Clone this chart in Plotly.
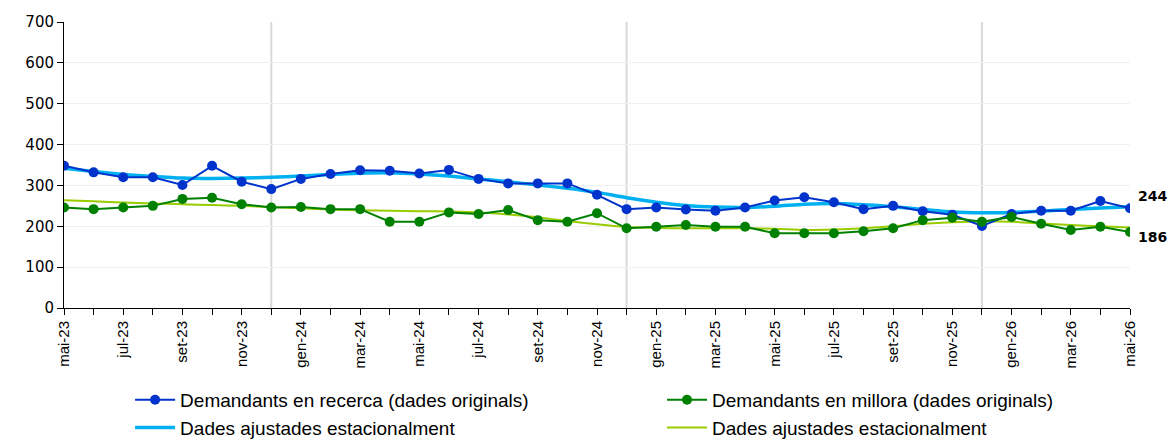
import plotly.graph_objects as go

months = ["mai-23","jun-23","jul-23","ago-23","set-23","oct-23","nov-23","des-23",
          "gen-24","feb-24","mar-24","abr-24","mai-24","jun-24","jul-24","ago-24","set-24","oct-24","nov-24","des-24",
          "gen-25","feb-25","mar-25","abr-25","mai-25","jun-25","jul-25","ago-25","set-25","oct-25","nov-25","des-25",
          "gen-26","feb-26","mar-26","abr-26","mai-26"]

recerca = [348,332,320,320,301,348,309,291,316,328,337,336,329,338,316,305,305,305,277,242,
           246,241,238,246,263,271,259,242,250,237,228,201,230,238,238,262,244]
millora = [246,242,246,250,267,270,254,246,247,242,242,211,211,234,230,240,215,211,232,195,
           199,203,199,199,183,183,183,188,195,215,221,211,223,206,191,199,186]
recerca_sa = [342,334,327,322,318,317,318,320,323,327,330,331,328,323,316,309,301,293,283,270,
              259,251,247,246,249,254,256,253,248,241,235,233,234,237,241,245,248]
millora_sa = [264,261,258,256,254,252,250,247,244,241,239,238,237,236,234,229,222,213,205,198,
              196,195,195,195,194,191,192,195,200,206,210,212,211,207,203,200,197]

tick_labels = [m if i % 2 == 0 else "" for i, m in enumerate(months)]
year_breaks = ["des-23", "des-24", "des-25"]

names = ["Demandants en recerca (dades originals)", "Demandants en millora (dades originals)",
         "Dades ajustades estacionalment", "Dades ajustades estacionalment"]

fig = go.Figure()
fig.add_trace(go.Scatter(x=months, y=recerca_sa, mode="lines", name=names[2],
                         legend="legend", legendgroup="c", legendrank=2,
                         line=dict(color="#00B0F0", width=3.5, shape="spline", smoothing=0.6)))
fig.add_trace(go.Scatter(x=months, y=millora_sa, mode="lines", name=names[3],
                         legend="legend2", legendgroup="d", legendrank=2,
                         line=dict(color="#99CC00", width=2, shape="spline", smoothing=0.6)))
fig.add_trace(go.Scatter(x=months, y=recerca, mode="lines+markers", name=names[0],
                         legend="legend", legendgroup="a", legendrank=1,
                         line=dict(color="#0033CC", width=2), marker=dict(size=10, color="#0033CC")))
fig.add_trace(go.Scatter(x=months, y=millora, mode="lines+markers", name=names[1],
                         legend="legend2", legendgroup="b", legendrank=1,
                         line=dict(color="#008000", width=2), marker=dict(size=10, color="#008000")))

for b in year_breaks:
    fig.add_shape(type="line", xref="x", yref="y", x0=b, x1=b, y0=0, y1=700,
                  line=dict(color="#D9D9D9", width=2), layer="below")

fig.add_annotation(x=months[-1], y=recerca[-1], text="<b>%d</b>" % recerca[-1], showarrow=False,
                   xanchor="left", xshift=6, yshift=12,
                   font=dict(family="DejaVu Sans", size=14, color="#000"))
fig.add_annotation(x=months[-1], y=millora[-1], text="<b>%d</b>" % millora[-1], showarrow=False,
                   xanchor="left", xshift=6, yshift=-5,
                   font=dict(family="DejaVu Sans", size=14, color="#000"))

legend_common = dict(orientation="v", yanchor="top", y=-0.255, xanchor="left",
                     font=dict(family="Liberation Sans, Arial", size=19, color="#000"),
                     itemwidth=40, traceorder="grouped", tracegroupgap=0,
                     bgcolor="rgba(0,0,0,0)")

fig.update_layout(
    width=1168, height=432,
    margin=dict(l=56, r=46, t=14, b=132, autoexpand=False),
    paper_bgcolor="white", plot_bgcolor="white",
    font=dict(family="Liberation Sans, Arial, sans-serif", size=15, color="#000"),
    showlegend=True,
    legend=dict(x=0.062, **legend_common),
    legend2=dict(x=0.561, **legend_common),
    xaxis=dict(type="category", range=[0, len(months) - 1], tickmode="array",
               tickvals=months, ticktext=tick_labels, tickangle=-90, automargin=False,
               ticks="outside", ticklen=6, tickcolor="#000", showline=True, linecolor="#000",
               linewidth=1, showgrid=False, zeroline=False,
               tickfont=dict(family="Liberation Sans", size=15, color="#000")),
    yaxis=dict(range=[0, 700], dtick=100, ticks="outside", ticklen=6, tickcolor="#000",
               showline=True, linecolor="#000", linewidth=1, showgrid=True, automargin=False,
               gridcolor="#F0F0F0", gridwidth=1, zeroline=False,
               tickfont=dict(family="DejaVu Sans", size=15, color="#000")),
)

fig.write_html("out.html")
